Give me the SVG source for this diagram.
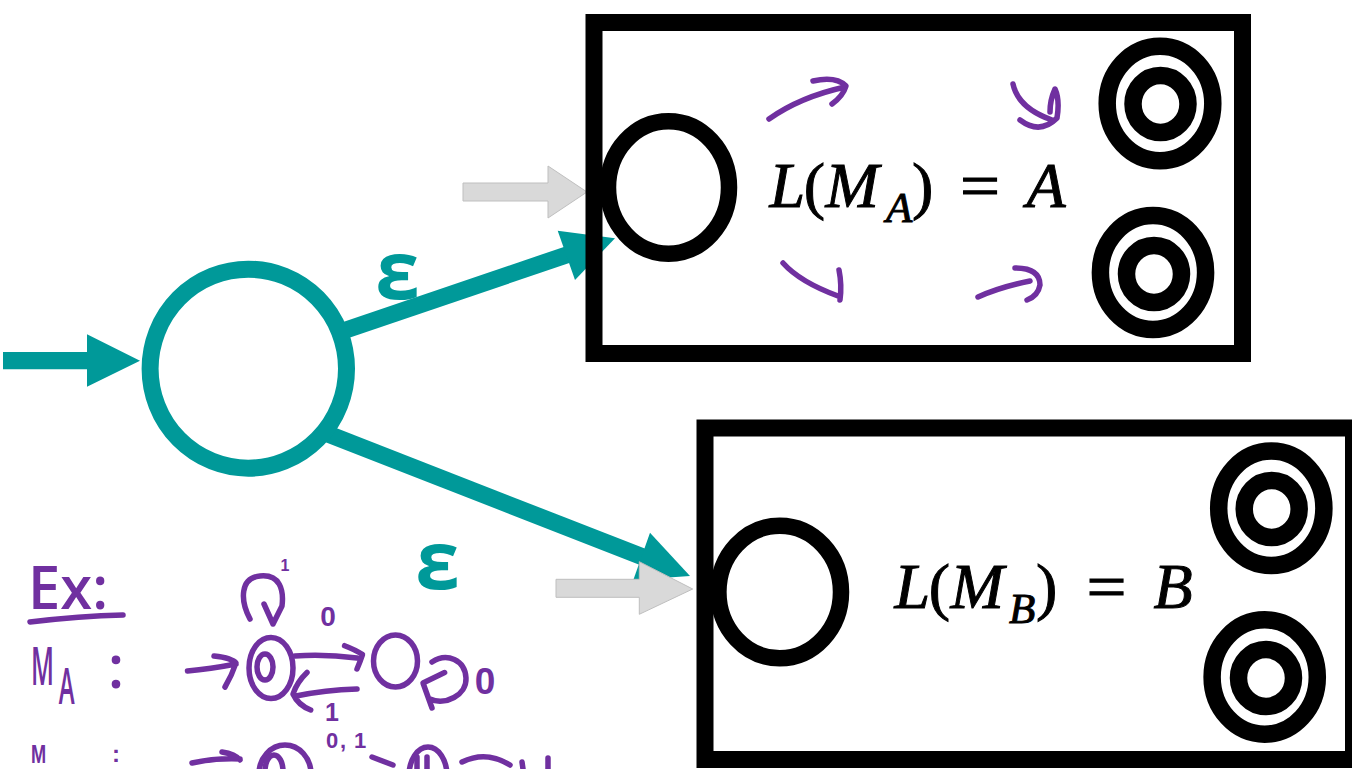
<svg xmlns="http://www.w3.org/2000/svg" width="1352" height="769" viewBox="0 0 1352 769">
<style>
.box{fill:none;stroke:#000;stroke-width:17}
.start{fill:none;stroke:#000;stroke-width:16.5}
.acc{fill:none;stroke:#000;stroke-width:17.5}
.teal{fill:#009999}
.tline{stroke:#009999;stroke-width:17;fill:none}
.gray{fill:#d9d9d9;stroke:#bfbfbf;stroke-width:1}
.ink{fill:none;stroke:#7030a0;stroke-width:5.5;stroke-linecap:round;stroke-linejoin:round}
.hw{fill:#7030a0;font-family:'Open Sans','DejaVu Sans',sans-serif;font-weight:600}
.hs{fill:#7030a0;font-family:'Liberation Sans','Arial',sans-serif;font-weight:700}
.eq{font-family:'Liberation Serif',serif;font-size:64px;fill:#000;stroke:#000;stroke-width:1}
.it{font-style:italic}
.eps{font-family:'Open Sans','DejaVu Sans',sans-serif;font-weight:700;font-size:80px;fill:#009999;text-anchor:middle}
</style>
<rect width="1352" height="769" fill="#fff"/>
<g id="connectors">
  <polygon class="teal" points="3,352 87,352 87,334.3 140,360.7 87,386.7 87,369.3 3,369.3"/>
  <line class="tline" x1="340" y1="332" x2="568" y2="254.5"/>
  <polygon class="teal" points="557.7,230.7 615,238.3 575,280"/>
  <line class="tline" x1="328" y1="434" x2="643" y2="557"/>
  <polygon class="teal" points="650,532.7 690,576 633.3,580"/>
  <polygon class="gray" points="463,183 548,183 548,166 587,192 548,218 548,201 463,201"/>
  <polygon class="gray" points="556,579.3 639.3,579.3 639.3,561.7 692.7,589 639.3,614.3 639.3,597.3 556,597.3"/>
  <text class="eps" x="397.5" y="299">ε</text>
  <text class="eps" x="437.5" y="589">ε</text>
</g>
<g id="start-node">
  <ellipse cx="248.3" cy="368.7" rx="98.2" ry="99.5" fill="none" stroke="#009999" stroke-width="17"/>
</g>
<g id="machine-A">
  <rect class="box" x="594" y="22.5" width="648.5" height="331"/>
  <ellipse class="start" cx="668.5" cy="187.5" rx="60.5" ry="66.2"/>
  <g id="A-accept-1">
    <ellipse class="acc" cx="1160" cy="103.5" rx="52.8" ry="57.2"/>
    <ellipse class="acc" cx="1160.5" cy="104" rx="27.5" ry="28.5"/>
  </g>
  <g id="A-accept-2">
    <ellipse class="acc" cx="1153" cy="272.5" rx="52.6" ry="57"/>
    <ellipse class="acc" cx="1154" cy="274" rx="27.5" ry="28.5"/>
  </g>
  <text class="eq" y="206.7"><tspan class="it" x="769.5">L</tspan><tspan x="803.7">(</tspan><tspan class="it" x="825.5">M</tspan><tspan class="it" x="886" y="221.7" font-size="43">A</tspan><tspan x="912" y="206.7">)</tspan><tspan x="960" textLength="40" lengthAdjust="spacingAndGlyphs">=</tspan><tspan class="it" x="1026.6">A</tspan></text>
  <g id="A-sketch">
    <path class="ink" d="M769,119 Q800,97 845,87 M813,81 Q836,76 846,86 Q843,96 832,104"/>
    <path class="ink" d="M1013,84 Q1018,108 1052,120 M1020,120 Q1040,135 1057,118 Q1060,100 1055,89 Q1050,100 1050,112"/>
    <path class="ink" d="M783,263 Q800,282 838,296 M839,270 Q842,285 840,300"/>
    <path class="ink" d="M978,297 Q1000,287 1030,281 M1015,268 Q1040,268 1040,285 Q1038,296 1027,300"/>
  </g>
</g>
<g id="machine-B">
  <rect class="box" x="705" y="428" width="648.5" height="331.5"/>
  <ellipse class="start" cx="779.7" cy="592" rx="61.3" ry="66.3"/>
  <g id="B-accept-1">
    <ellipse class="acc" cx="1271.3" cy="508.3" rx="52.6" ry="57.2"/>
    <ellipse class="acc" cx="1271.7" cy="509" rx="27.5" ry="28.5"/>
  </g>
  <g id="B-accept-2">
    <ellipse class="acc" cx="1264.7" cy="677" rx="52.6" ry="57.2"/>
    <ellipse class="acc" cx="1266" cy="678" rx="27.5" ry="28.5"/>
  </g>
  <text class="eq" y="607.5"><tspan class="it" x="894.5">L</tspan><tspan x="928.7">(</tspan><tspan class="it" x="950.5">M</tspan><tspan class="it" x="1009" y="622.5" font-size="43">B</tspan><tspan x="1036" y="607.5">)</tspan><tspan x="1086.5" textLength="40" lengthAdjust="spacingAndGlyphs">=</tspan><tspan class="it" x="1153.5">B</tspan></text>
</g>
<g id="example">
  <text class="hw" x="28" y="609" font-size="60" textLength="80" lengthAdjust="spacingAndGlyphs">Ex:</text>
  <path class="ink" d="M30,622 Q80,616 123,615"/>
  <text class="hw" transform="translate(31,685) scale(0.48,1)" font-size="52"><tspan x="0" y="0">M</tspan><tspan x="58" y="19" font-size="50">A</tspan></text>
  <text class="hw" x="116" y="688" font-size="60" text-anchor="middle">:</text>
  <path class="ink" d="M187.5,671 Q210,669 236,664 M214,656 Q232,658 236,663 Q232,675 225,687"/>
  <ellipse class="ink" cx="271" cy="668" rx="22" ry="30.5"/>
  <ellipse class="ink" cx="265" cy="667" rx="8" ry="13"/>
  <path class="ink" d="M250,619 C240,600 240,578 260,576 C280,574 284,590 282,606 L273,624 M264,604 L273,624"/>
  <text class="hs" x="285" y="571" font-size="16" text-anchor="middle">1</text>
  <text class="hs" x="328" y="626" font-size="28" text-anchor="middle">0</text>
  <path class="ink" d="M295,656 Q325,654 357,658 M344.6,645.7 Q356,650 362.5,654.6 Q360,662 357,669"/>
  <path class="ink" d="M357,689 Q325,690 296,696 M307,672.5 Q297,682 293,694 Q298,705 310.7,710"/>
  <text class="hs" x="332" y="721" font-size="25" text-anchor="middle">1</text>
  <ellipse class="ink" cx="395.5" cy="661" rx="22" ry="26"/>
  <path class="ink" d="M430,699 C445,706 467,695 466,678 C465,660 447,652 432,662 M444.6,672.5 L423,683 L432,708"/>
  <text class="hs" x="485" y="694" font-size="37" text-anchor="middle">0</text>
  <text class="hs" transform="translate(31,763) scale(0.7,1)" font-size="26">M</text>
  <text class="hs" x="116" y="762" font-size="24" text-anchor="middle">:</text>
  <path class="ink" d="M192,763 Q215,758 240,759 M222,752 Q235,754 240,760"/>
  <ellipse class="ink" cx="285" cy="774" rx="26" ry="29"/>
  <ellipse class="ink" cx="274" cy="771" rx="9" ry="16"/>
  <text class="hs" x="326" y="748" font-size="22"><tspan>0</tspan><tspan x="340">,</tspan><tspan x="354">1</tspan></text>
  <path class="ink" d="M372,757 L393,765"/>
  <ellipse class="ink" cx="428" cy="776" rx="19" ry="29"/>
  <path class="ink" d="M417,757 L417,769 M427,757 L427,769"/>
  <path class="ink" d="M462,762 Q486,750 510,765 M522,762 L523,769 M548,758 L548,769"/>
</g>
</svg>
